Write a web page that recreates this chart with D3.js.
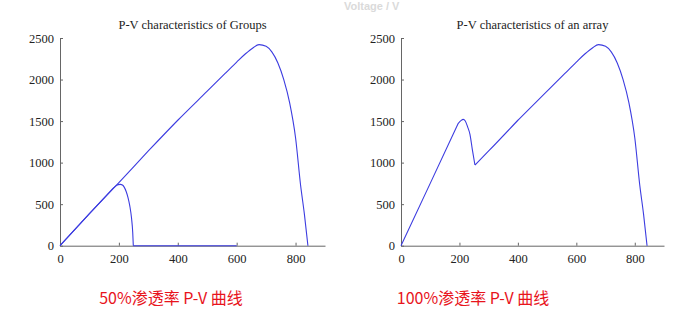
<!DOCTYPE html>
<html>
<head>
<meta charset="utf-8">
<script src="https://cdn.jsdelivr.net/npm/d3@7/dist/d3.min.js"></script>
<style>
  html, body { margin: 0; padding: 0; background: #fff; }
  svg { display: block; }
</style>
</head>
<body>
<svg id="chart" width="689" height="325"></svg>
<script>
// Voltage / power samples (V, W)
const groupMainV = [0, 100, 200, 300, 400, 500, 560, 600, 630, 655, 676, 700, 720, 740, 760, 780, 800, 817, 830, 842];
const groupMainP = [0, 385, 760, 1140, 1510, 1860, 2070, 2210, 2310, 2380, 2420, 2400, 2330, 2200, 2000, 1720, 1300, 730, 380, 0];

const groupSmallV = [0, 100, 180, 190, 198, 205, 212, 218, 225, 231, 237, 243, 247, 249, 600];
const groupSmallP = [0, 385, 690, 720, 735, 738, 730, 705, 650, 580, 480, 330, 160, 0, 0];

const arrayV = [0, 100, 196, 205, 213, 220, 228, 236, 244, 253, 300, 400, 500, 560, 600, 630, 655, 676, 700, 720, 740, 760, 780, 800, 817, 830, 842];
const arrayP = [0, 750, 1473, 1505, 1521, 1500, 1430, 1340, 1160, 971, 1140, 1510, 1860, 2070, 2210, 2310, 2380, 2420, 2400, 2330, 2200, 2000, 1720, 1300, 730, 380, 0];

const xTicks = [0, 200, 400, 600, 800];
const yTicks = [0, 500, 1000, 1500, 2000, 2500];

const titles = ["P-V characteristics of Groups", "P-V characteristics of an array"];
const captions = ["50%渗透率 P-V 曲线", "100%渗透率 P-V 曲线"];

const zip = (vs, ps) => vs.map((v, i) => [v, ps[i]]);

// split a series at its sharp corners (given by voltage) so each piece can be smoothed
const splitAt = (pts, corners) => {
  const pieces = [];
  let cur = [];
  pts.forEach(d => {
    cur.push(d);
    if (corners.includes(d[0])) { pieces.push(cur); cur = [d]; }
  });
  if (cur.length > 1) pieces.push(cur);
  return pieces;
};

const svg = d3.select("#chart");

// faint header text at the top edge
svg.append("text")
  .attr("x", 344).attr("y", 10)
  .attr("font-family", "Liberation Sans, Arial, sans-serif")
  .attr("font-size", 11).attr("font-weight", "bold")
  .attr("fill", "#dadada")
  .text("Voltage / V");

const panels = [
  { left: 60, right: 325,
    series: [splitAt(zip(groupMainV, groupMainP), []), splitAt(zip(groupSmallV, groupSmallP), [180, 249])],
    title: titles[0], caption: captions[0], capX: 171 },
  { left: 401, right: 664,
    series: [splitAt(zip(arrayV, arrayP), [196, 253, 400])],
    title: titles[1], caption: captions[1], capX: 473 }
];

const plotTop = 38, plotBottom = 245.7;

panels.forEach(p => {
  const x = d3.scaleLinear().domain([0, 900]).range([p.left, p.right]);
  const y = d3.scaleLinear().domain([0, 2500]).range([plotBottom, plotTop]);
  const g = svg.append("g");

  const xAxis = g.append("g")
    .attr("transform", `translate(0,${plotBottom})`)
    .call(d3.axisBottom(x).tickValues(xTicks).tickFormat(d3.format("d"))
      .tickSize(-3).tickPadding(6).tickSizeOuter(0));
  const yAxis = g.append("g")
    .attr("transform", `translate(${p.left},0)`)
    .call(d3.axisLeft(y).tickValues(yTicks).tickFormat(d3.format("d"))
      .tickSize(-3).tickPadding(6).tickSizeOuter(0));

  [xAxis, yAxis].forEach(a => {
    a.select(".domain").attr("stroke", "#666").attr("stroke-width", 1);
    a.selectAll(".tick line").attr("stroke", "#666");
    a.selectAll(".tick text")
      .attr("font-family", "Liberation Serif, Times New Roman, serif")
      .attr("font-size", 12.5)
      .attr("fill", "#222");
  });
  xAxis.selectAll(".tick text").attr("dy", "0.9em");

  const line = d3.line().x(d => x(d[0])).y(d => y(d[1])).curve(d3.curveMonotoneX);
  p.series.forEach(pieces => {
    const d = pieces.map(piece => line(piece)).join("");
    g.append("path")
      .attr("d", d)
      .attr("fill", "none")
      .attr("stroke", "#3c3ce0")
      .attr("stroke-width", 1.1)
      .attr("stroke-linejoin", "round");
  });

  g.append("text")
    .attr("x", (p.left + p.right) / 2).attr("y", 29)
    .attr("text-anchor", "middle")
    .attr("font-family", "Liberation Serif, Times New Roman, serif")
    .attr("font-size", 12.5)
    .attr("fill", "#222")
    .text(p.title);

  g.append("text")
    .attr("x", p.capX).attr("y", 304)
    .attr("text-anchor", "middle")
    .attr("font-family", "Noto Sans CJK SC, sans-serif")
    .attr("font-size", 16)
    .attr("fill", "#e8141c")
    .text(p.caption);
});
</script>
</body>
</html>
